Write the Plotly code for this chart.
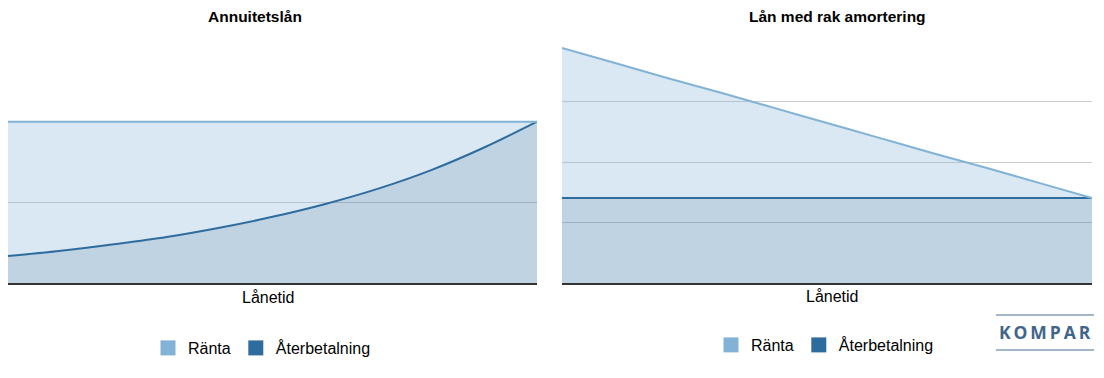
import plotly.graph_objects as go

# Data
period = [0, 1, 2, 3, 4, 5, 6, 7, 8, 9, 10]
# Annuitetslån: total payment constant, repayment grows
annuity_repay = [0.335, 0.40, 0.48, 0.57, 0.685, 0.82, 0.98, 1.17, 1.40, 1.68, 2.0]
annuity_total = 2.0
annuity_interest = [round(annuity_total - v, 3) for v in annuity_repay]
# Rak amortering: constant repayment, interest falls linearly
straight_repay = [1.405] * 11
straight_interest = [2.48, 2.23, 1.98, 1.74, 1.49, 1.24, 0.99, 0.74, 0.50, 0.25, 0.0]

series_names = ["Ränta", "Återbetalning"]
titles = ["Annuitetslån", "Lån med rak amortering"]
xlabel = "Lånetid"

C_R = "#82b3d6"
C_A = "#2f6c9e"
FONT = "Liberation Sans, Arial, sans-serif"

fig = go.Figure()

def add_panel(xa, ya, repay, interest, sg, legend):
    fig.add_trace(go.Scatter(x=period, y=repay, xaxis=xa, yaxis=ya, stackgroup=sg,
                             mode="lines", line=dict(color=C_A, width=2, shape="spline", smoothing=1.0),
                             fillcolor="rgba(47,108,158,0.3)", showlegend=False,
                             hoverinfo="skip"))
    fig.add_trace(go.Scatter(x=period, y=interest, xaxis=xa, yaxis=ya, stackgroup=sg,
                             mode="lines", line=dict(color=C_R, width=2, shape="spline", smoothing=1.0),
                             fillcolor="rgba(130,179,214,0.3)", showlegend=False,
                             hoverinfo="skip"))
    for name, col in zip(series_names, [C_R, C_A]):
        fig.add_trace(go.Scatter(x=[None], y=[None], xaxis=xa, yaxis=ya, mode="markers",
                                 marker=dict(symbol="square", size=15, color=col),
                                 name=name, legend=legend, showlegend=True))

add_panel("x", "y", annuity_repay, annuity_interest, "a", "legend")
add_panel("x2", "y2", straight_repay, straight_interest, "b", "legend2")

W, H = 1104, 378
def px(x): return x / W
def py(y): return 1 - y / H

ybot, ytop = py(283), py(41)
axcommon = dict(showticklabels=False, ticks="", zeroline=False)
fig.update_layout(
    width=W, height=H, margin=dict(l=0, r=0, t=0, b=0),
    paper_bgcolor="white", plot_bgcolor="white",
    font=dict(family=FONT, size=16, color="#000"),
    xaxis=dict(domain=[px(8), px(537)], range=[0, 10], showgrid=False, showline=True,
               linecolor="#333", linewidth=1.5, **axcommon),
    yaxis=dict(domain=[ybot, ytop], range=[0, 3], dtick=1, showgrid=True,
               gridcolor="#cccccc", showline=False, **axcommon),
    xaxis2=dict(domain=[px(562), px(1092)], range=[0, 10], showgrid=False, showline=True,
                linecolor="#333", linewidth=1.5, anchor="y2", **axcommon),
    yaxis2=dict(domain=[ybot, ytop], range=[0, 4], dtick=1, showgrid=True,
                gridcolor="#cccccc", showline=False, anchor="x2", **axcommon),
    legend=dict(orientation="h", traceorder="normal", x=px(262), xanchor="center",
                y=py(348), yanchor="middle",
                font=dict(size=16, family=FONT), bgcolor="rgba(0,0,0,0)"),
    legend2=dict(orientation="h", traceorder="normal", x=px(825), xanchor="center",
                 y=py(345), yanchor="middle",
                 font=dict(size=16, family=FONT), bgcolor="rgba(0,0,0,0)"),
    showlegend=True,
)

anns = [
    dict(text="<b>%s</b>" % titles[0], x=px(255), y=py(16), size=15.5),
    dict(text="<b>%s</b>" % titles[1], x=px(837), y=py(16), size=15.5),
    dict(text=xlabel, x=px(268), y=py(297), size=16),
    dict(text=xlabel, x=px(832), y=py(296), size=16),
]
for a in anns:
    s = a.pop("size")
    fig.add_annotation(xref="paper", yref="paper", showarrow=False, xanchor="center",
                       yanchor="middle", font=dict(size=s, family=FONT, color="#000"), **a)

# Logo
fig.add_annotation(xref="paper", yref="paper", x=px(1045), y=py(332), showarrow=False,
                   text="<b>K\u2009O\u2009M\u2009P\u2009A\u2009R</b>", xanchor="center", yanchor="middle",
                   font=dict(size=17.5, family="Open Sans", color="#41658a"))
for yy in (315, 350):
    fig.add_shape(type="line", xref="paper", yref="paper", x0=px(996), x1=px(1094),
                  y0=py(yy), y1=py(yy), line=dict(color="#a3b7ca", width=2))

fig.write_html("out.html")
